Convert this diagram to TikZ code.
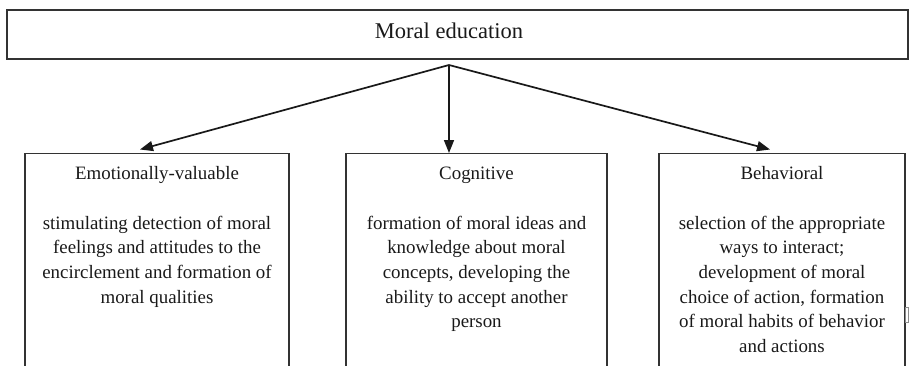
\documentclass[tikz,border=0pt]{standalone}
\usepackage{fontspec}
\setmainfont{Liberation Serif}
\usetikzlibrary{arrows.meta}
\begin{document}
\begin{tikzpicture}[x=1pt,y=-1pt,
  frame/.style={draw=black!80, line width=1.4pt},
  headbox/.style={frame, minimum width=901pt, minimum height=49pt, inner sep=0pt},
  areabox/.style={frame, anchor=north, minimum height=235pt, inner sep=0pt},
  heading/.style={anchor=base, inner sep=0pt, font=\fontsize{22.5}{27}\selectfont, text=black!90},
  caption/.style={anchor=base, inner sep=0pt, font=\fontsize{18.9}{24.7}\selectfont, text=black!90},
  body/.style={anchor=base, align=center, inner sep=0pt, font=\fontsize{18.9}{24.7}\selectfont, text=black!90},
  link/.style={draw=black!90, line width=1.7pt, -{Triangle[length=13pt,width=10pt]}}
]
\useasboundingbox (0,0) rectangle (913,365);
\clip (0,0) rectangle (913,365);

% top level
\node[headbox] (top) at (457.5,34.5) {};
\node[heading] (toplabel) at (449,38) {Moral education};

% the three components (boxes run on past the lower edge)
\node[areabox, minimum width=264pt] (emo) at (157,153) {};
\node[areabox, minimum width=261pt] (cog) at (476.5,153) {};
\node[areabox, minimum width=246pt] (beh) at (782,153) {};

\node[caption] (emotitle) at (157,179) {Emotionally-valuable};
\node[caption] (cogtitle) at (476.5,179) {Cognitive};
\node[caption] (behtitle) at (782,179) {Behavioral};

% each body is placed by the baseline of its last line (24.7pt apart, first at 229)
\node[body] (emotext) at (157,303.1) {stimulating detection of moral\\feelings and attitudes to the\\encirclement and formation of\\moral qualities};
\node[body] (cogtext) at (476.5,327.8) {formation of moral ideas and\\knowledge about moral\\concepts, developing the\\ability to accept another\\person};
\node[body] (behtext) at (782,352.5) {selection of the appropriate\\ways to interact;\\development of moral\\choice of action, formation\\of moral habits of behavior\\and actions};

% arrows fanning out from one point under the top box
\coordinate (fork) at (449,65);
\coordinate (tipL) at (140,149.5);
\coordinate (tipR) at (770,149.5);
\draw[link] (fork) -- (tipL);
\draw[link] (fork) -- (fork |- cog.north);
\draw[link] (fork) -- (tipR);

% small mark beside the right box
\draw[black!45, line width=0.6pt] (905.5,307) rectangle (908,322);
\end{tikzpicture}
\end{document}
